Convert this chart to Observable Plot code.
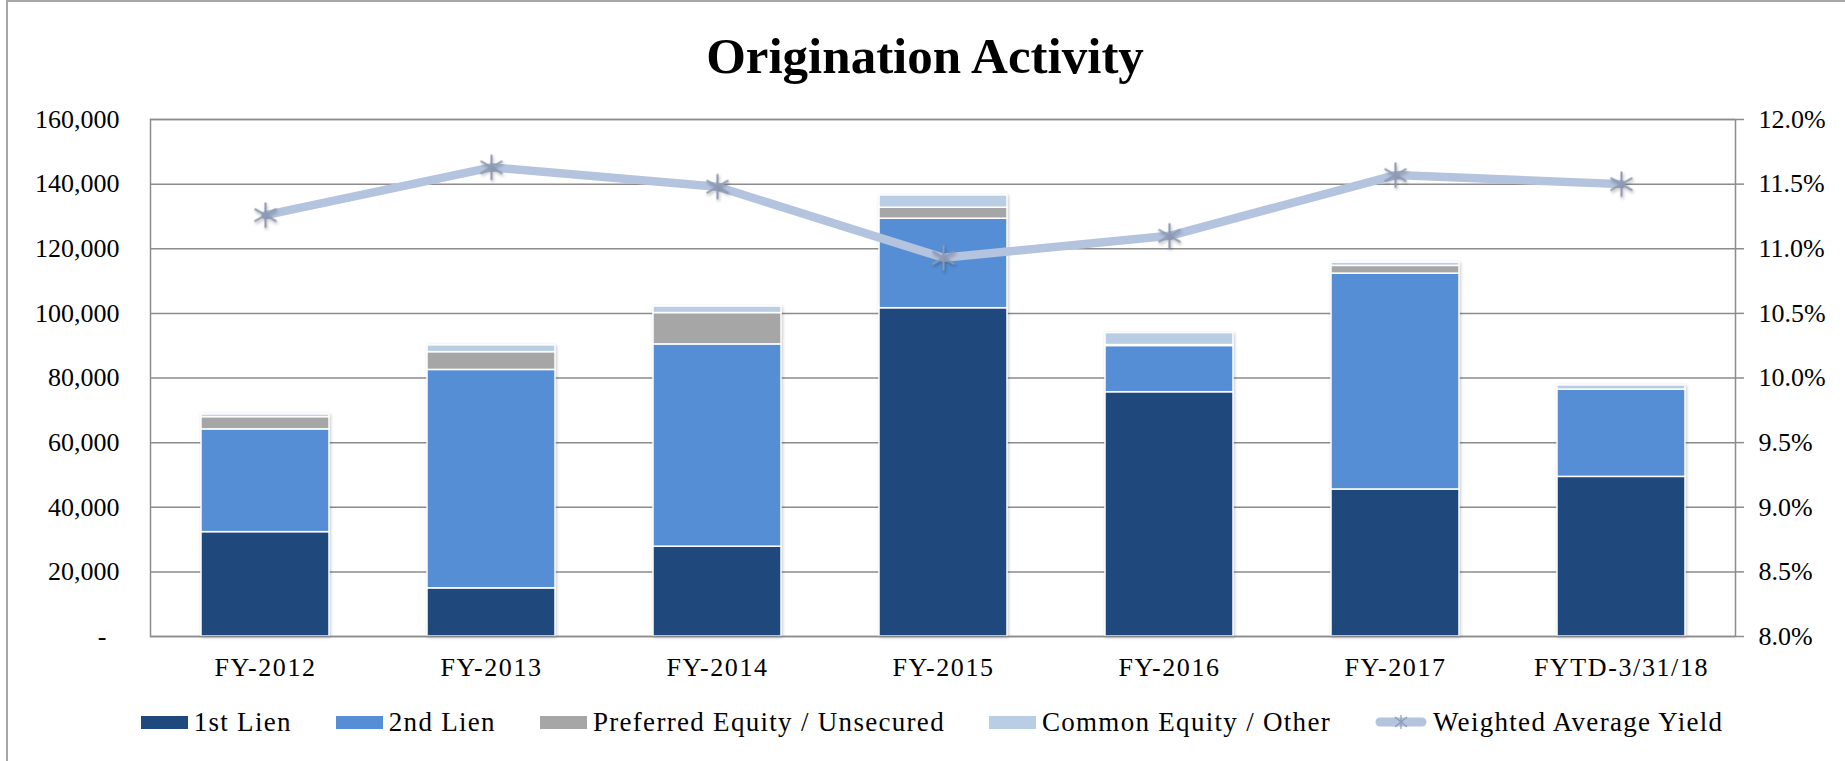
<!DOCTYPE html>
<html>
<head>
<meta charset="utf-8">
<script src="https://cdn.jsdelivr.net/npm/d3@7"></script>
<script src="https://cdn.jsdelivr.net/npm/@observablehq/plot@0.6"></script>
<style>
  html, body { margin: 0; padding: 0; background: #fff; }
  #wrap { position: relative; width: 1845px; height: 761px; overflow: hidden; background: #fff; font-family: "Liberation Serif", serif; color: #000; }
  #frame { position: absolute; left: 6px; top: 0; width: 1845px; height: 761px; border-top: 2px solid #a6a6a6; border-left: 2px solid #a6a6a6; box-sizing: border-box; pointer-events: none; }
  #title { position: absolute; left: 0; width: 1850px; top: 31px; text-align: center; font-weight: bold; font-size: 51px; line-height: 51px; }
  #chart { position: absolute; left: 0; top: 95px; }
  #legend { position: absolute; left: 0; width: 1864px; top: 706px; display: flex; justify-content: center; align-items: center; gap: 44px; font-size: 27px; line-height: 32px; letter-spacing: 1.3px; }
  .item { display: flex; align-items: center; gap: 6px; white-space: nowrap; }
  .sw { width: 47px; height: 13px; }
  g[aria-label="bar"] { filter: drop-shadow(1.5px 1.5px 1.5px rgba(0,0,0,0.22)); }
  g[aria-label="dot"] { filter: drop-shadow(1.5px 2px 1.5px rgba(0,0,0,0.3)); }
  g[aria-label="x-axis tick label"] text { letter-spacing: 1.6px; }
</style>
</head>
<body>
<div id="wrap">
  <div id="frame"></div>
  <div id="title">Origination Activity</div>
  <div id="chart"></div>
  <div id="legend"></div>
</div>
<script>
// ---- data ----
const categories = ["FY-2012", "FY-2013", "FY-2014", "FY-2015", "FY-2016", "FY-2017", "FYTD-3/31/18"];
const seriesNames = ["1st Lien", "2nd Lien", "Preferred Equity / Unsecured", "Common Equity / Other"];
const firstLien  = [32300, 14900, 27800, 101600, 75600, 45500, 49400];
const secondLien = [31800, 67600, 62600, 27700, 14300, 66800, 27000];
const preferred  = [3800, 5500, 9700, 3400, 300, 2400, 0];
const common     = [800, 2100, 2000, 3800, 3700, 1000, 1300];
const yieldName = "Weighted Average Yield";
const yields = [11.26, 11.63, 11.48, 10.93, 11.10, 11.57, 11.50];
const leftTicks = [0, 20000, 40000, 60000, 80000, 100000, 120000, 140000, 160000];
const rightTickLabels = ["8.0%", "8.5%", "9.0%", "9.5%", "10.0%", "10.5%", "11.0%", "11.5%", "12.0%"];

// ---- styles ----
const colors = ["#1f497d", "#558ed5", "#a6a6a6", "#b9cde5"];
const lineColor = "#b4c3de";
const markerColor = "#8d99b5";
const gridColor = "#8c8c8c";

// secondary (yield) axis mapped onto the primary scale: 8% -> 0, 12% -> 160,000
const yMin = 8, yMax = 12, primaryMax = 160000;
const toPrimary = v => (v - yMin) / (yMax - yMin) * primaryMax;

const seriesValues = [firstLien, secondLien, preferred, common];
const rows = [];
categories.forEach((c, i) => {
  seriesNames.forEach((s, j) => rows.push({category: c, series: s, value: seriesValues[j][i]}));
});
const yieldRows = categories.map((c, i) => ({category: c, yield: yields[i]}));

const fmt = d3.format(",");
const chart = Plot.plot({
  width: 1845,
  height: 600,
  marginLeft: 150,
  marginRight: 110,
  marginTop: 24,
  marginBottom: 59,
  style: {fontFamily: "'Liberation Serif', serif", fontSize: "26px", color: "#000", background: "transparent", overflow: "visible"},
  x: {domain: categories, paddingInner: 0.435, paddingOuter: 0.2175, label: null},
  y: {domain: [0, primaryMax], label: null},
  color: {domain: seriesNames, range: colors},
  marks: [
    Plot.gridY(leftTicks, {stroke: gridColor, strokeOpacity: 1, strokeWidth: 1.5}),
    Plot.barY(rows, {x: "category", y: "value", fill: "series", stroke: "white", strokeWidth: 1.5}),
    Plot.frame({stroke: gridColor, strokeWidth: 1.5}),
    Plot.axisY(leftTicks, {anchor: "left", tickSize: 0, tickPadding: 31, label: null,
      tickFormat: d => d === 0 ? "-\u00a0\u00a0" : fmt(d)}),
    Plot.axisY(leftTicks, {anchor: "right", tickSize: 8, tickPadding: 15, label: null, stroke: gridColor, strokeWidth: 1.5,
      tickFormat: d => rightTickLabels[leftTicks.indexOf(d)]}),
    Plot.axisX({tickSize: 0, tickPadding: 21, label: null}),
    Plot.line(yieldRows, {x: "category", y: d => toPrimary(d.yield), stroke: lineColor, strokeWidth: 8.5, strokeLinejoin: "round", strokeLinecap: "round"}),
    Plot.dot(yieldRows, {x: "category", y: d => toPrimary(d.yield), symbol: "asterisk", r: 12, stroke: markerColor, strokeWidth: 2})
  ]
});
document.getElementById("chart").appendChild(chart);

// ---- legend ----
const legend = document.getElementById("legend");
seriesNames.forEach((s, j) => {
  const it = document.createElement("div");
  it.className = "item";
  it.innerHTML = `<div class="sw" style="background:${colors[j]}"></div><span>${s}</span>`;
  legend.appendChild(it);
});
{
  const it = document.createElement("div");
  it.className = "item";
  it.innerHTML = `<svg width="52" height="20" viewBox="0 0 52 20"><line x1="5" y1="10" x2="47" y2="10" stroke="${lineColor}" stroke-width="9" stroke-linecap="round"/>` +
    `<g stroke="${markerColor}" stroke-width="1.2"><line x1="26" y1="3" x2="26" y2="17"/><line x1="20" y1="5" x2="32" y2="15"/><line x1="20" y1="15" x2="32" y2="5"/></g></svg><span>${yieldName}</span>`;
  legend.appendChild(it);
}
</script>
</body>
</html>
